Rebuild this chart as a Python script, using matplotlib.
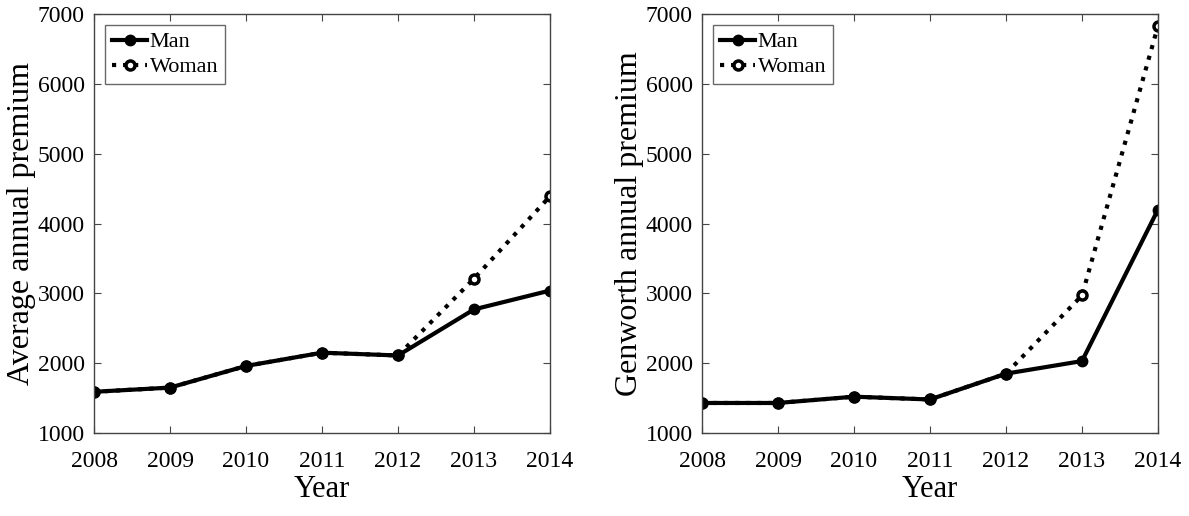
import matplotlib.pyplot as plt

years = [2008, 2009, 2010, 2011, 2012, 2013, 2014]
avg_man = [1590, 1650, 1960, 2150, 2110, 2770, 3040]
avg_woman = [1590, 1650, 1960, 2150, 2110, 3210, 4390]
gen_man = [1430, 1430, 1520, 1480, 1850, 2030, 4200]
gen_woman = [1430, 1430, 1520, 1480, 1850, 2970, 6830]

plt.rcParams['font.family'] = ['Liberation Serif', 'DejaVu Serif']

W, H = 1189, 516
fig = plt.figure(figsize=(W / 100, H / 100), dpi=100)
ax1 = fig.add_axes([94/W, (H-433)/H, 456/W, 419/H])
ax2 = fig.add_axes([702/W, (H-433)/H, 456/W, 419/H])

panels = [(ax1, avg_man, avg_woman, 'Average annual premium'),
          (ax2, gen_man, gen_woman, 'Genworth annual premium')]

for ax, man, woman, ylab in panels:
    ax.plot(years, woman, ':', color='black', lw=3, marker='o', ms=6.5,
            mfc='white', mec='black', mew=2.5, label='Woman')
    ax.plot(years, man, '-', color='black', lw=3, marker='o', ms=7.5,
            mfc='black', mec='black', label='Man')
    ax.set_xlim(2008, 2014)
    ax.set_ylim(1000, 7000)
    ax.set_xticks(years)
    ax.set_yticks(range(1000, 7001, 1000))
    ax.tick_params(direction='in', labelsize=17, top=True, right=True,
                   color='#444444', length=5)
    ax.tick_params(axis='x', pad=13)
    ax.tick_params(axis='y', pad=6.5)
    for s in ax.spines.values():
        s.set_color('#444444')
        s.set_linewidth(1)
    ax.set_xlabel('Year', fontsize=22, labelpad=2)
    ax.set_ylabel(ylab, fontsize=23, labelpad=1)
    h, l = ax.get_legend_handles_labels()
    leg = ax.legend(h[::-1], l[::-1], loc='upper left', fontsize=16, frameon=True,
                    fancybox=False, edgecolor='#444444', handlelength=1.6,
                    handletextpad=0.1, borderpad=0.3, labelspacing=0.2,
                    borderaxespad=0.5)
    leg.get_frame().set_linewidth(1)

fig.savefig('out.png', dpi=100)
